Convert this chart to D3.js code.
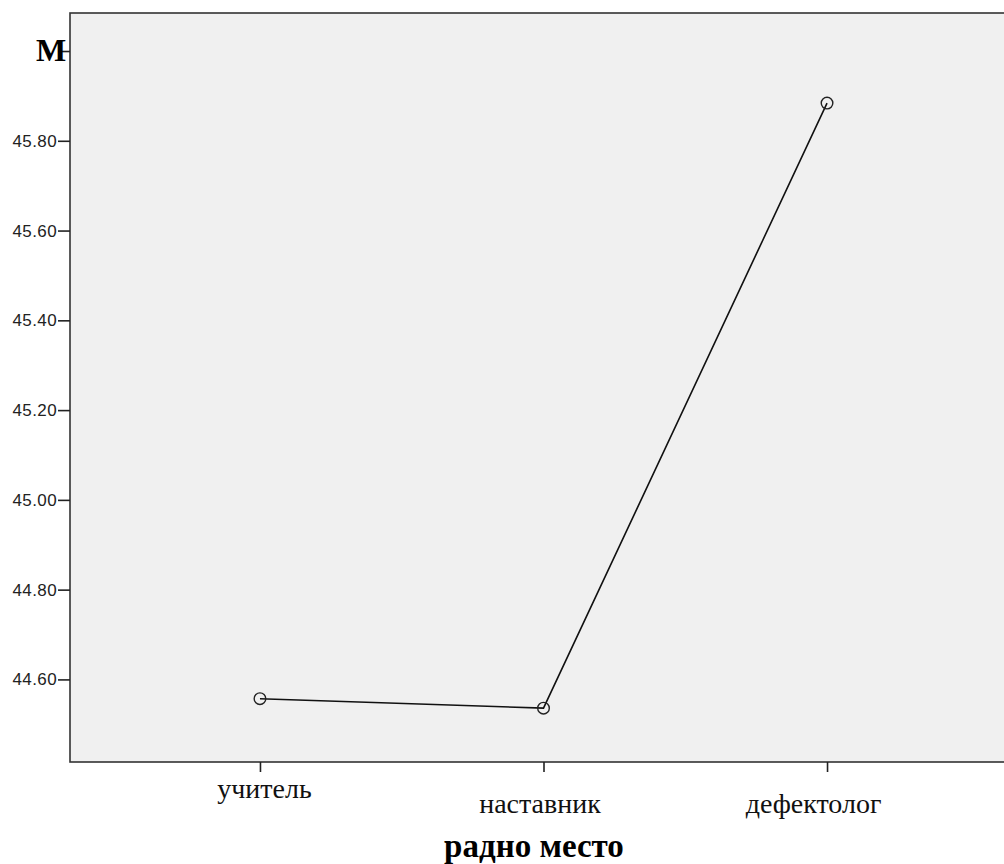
<!DOCTYPE html>
<html><head><meta charset="utf-8">
<script src="https://cdn.jsdelivr.net/npm/d3@7"></script>
<style>body{margin:0;background:#fff}svg{display:block}</style>
</head><body>
<script>
const categories = ["учитель", "наставник", "дефектолог"];
const means = [44.557, 44.536, 45.884];
const yTicks = [44.6, 44.8, 45.0, 45.2, 45.4, 45.6, 45.8, 46.0];
const yTickLabels = ["44.60", "44.80", "45.00", "45.20", "45.40", "45.60", "45.80", ""];
const xTitle = "радно место";
const yTitle = "M";

(function () {
const W = 1004, H = 864;
const svg = d3.select("body").append("svg").attr("width", W).attr("height", H);
const pL = 70, pR = 1017, pT = 13, pB = 762;
const labelShift = [4, -4, -14];

const x = d3.scalePoint().domain(categories).range([pL, pR]).padding(0.67);
const y = d3.scaleLinear().domain([44.416, 46.0847]).range([pB, pT]);

svg.append("rect").attr("x", pL).attr("y", pT).attr("width", pR - pL).attr("height", pB - pT)
  .attr("fill", "#f0f0f0").attr("stroke", "#333").attr("stroke-width", 1.6);

const yAxis = svg.append("g").attr("transform", `translate(${pL},0)`)
  .call(d3.axisLeft(y).tickValues(yTicks).tickSize(12).tickPadding(1)
    .tickFormat((d, i) => yTickLabels[i]));
yAxis.select(".domain").remove();
yAxis.selectAll("line").attr("stroke", "#222").attr("stroke-width", 1.6);
yAxis.selectAll("text").attr("font-family", "Arial, 'Liberation Sans', sans-serif")
  .attr("font-size", 17).attr("fill", "#222").attr("letter-spacing", 0.4);

const xAxis = svg.append("g").attr("transform", `translate(0,${pB})`)
  .call(d3.axisBottom(x).tickSize(10).tickPadding(14));
xAxis.select(".domain").remove();
xAxis.selectAll("line").attr("stroke", "#222").attr("stroke-width", 1.6);
xAxis.selectAll("text").attr("font-family", "'Times New Roman', 'Liberation Serif', serif")
  .attr("font-size", 28).attr("fill", "#111").attr("dy", null)
  .attr("x", (d, i) => labelShift[i])
  .attr("y", (d, i) => i === 0 ? 36 : 51);

svg.append("text").attr("x", 534).attr("y", 857)
  .attr("text-anchor", "middle").attr("font-family", "'Times New Roman', 'Liberation Serif', serif")
  .attr("font-weight", "bold").attr("font-size", 33).attr("fill", "#000").text(xTitle);

svg.append("text").attr("x", 36).attr("y", 61)
  .attr("font-family", "'Times New Roman', 'Liberation Serif', serif")
  .attr("font-weight", "bold").attr("font-size", 32).attr("fill", "#000").text(yTitle);

const line = d3.line().x((d, i) => x(categories[i])).y(d => y(d));
svg.append("path").datum(means).attr("d", line).attr("fill", "none")
  .attr("stroke", "#111").attr("stroke-width", 1.6);

svg.selectAll("circle.pt").data(means).join("circle").attr("class", "pt")
  .attr("cx", (d, i) => x(categories[i])).attr("cy", d => y(d)).attr("r", 5.8)
  .attr("fill", "none").attr("stroke", "#222").attr("stroke-width", 1.4);
})();
</script>
</body></html>
